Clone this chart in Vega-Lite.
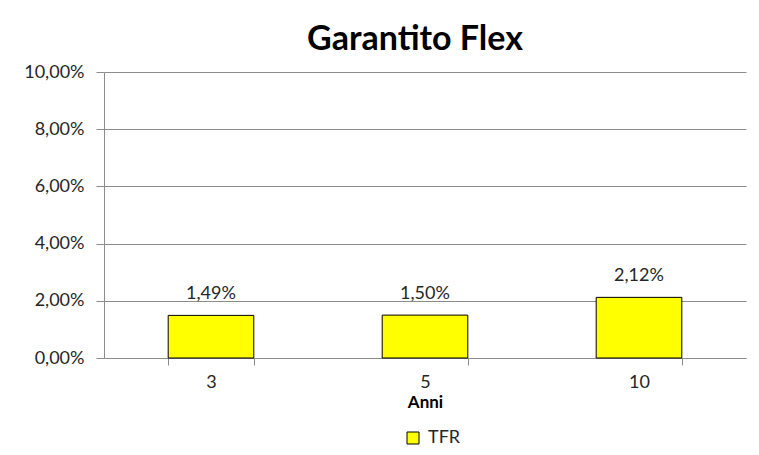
{
  "$schema": "https://vega.github.io/schema/vega-lite/v6.json",
  "width": 642,
  "height": 286,
  "autosize": {"type": "none"},
  "padding": {"left": 104, "top": 72, "right": 13, "bottom": 97},
  "background": "white",
  "config": {
    "locale": {"number": {"decimal": ",", "thousands": ".", "grouping": [3], "currency": ["€", ""]}},
    "view": {"stroke": null},
    "font": "Lato",
    "axis": {"labelFont": "Lato", "labelFontSize": 18, "labelColor": "#262626", "domainColor": "#8c8c8c", "tickColor": "#8c8c8c", "gridColor": "#8c8c8c"}
  },
  "title": {"text": "Garantito Flex", "fontSize": 34, "font": "Lato", "fontWeight": "bold", "color": "#000000", "anchor": "middle", "frame": "group", "offset": 6, "dx": -10},
  "data": {"values": [
    {"anni": "3", "valore": 0.0149, "serie": "TFR"},
    {"anni": "5", "valore": 0.0150, "serie": "TFR"},
    {"anni": "10", "valore": 0.0212, "serie": "TFR"}
  ]},
  "encoding": {
    "x": {"field": "anni", "type": "ordinal", "sort": ["3", "5", "10"],
      "scale": {"paddingInner": 0.6, "paddingOuter": 0.3},
      "axis": {"title": "Anni", "titleFont": "Lato", "titleFontSize": 17, "titleFontWeight": "bold", "titleColor": "#000000", "titlePadding": 3, "labelAngle": 0, "labelPadding": 8, "tickBand": "extent", "tickSize": 7, "grid": false}},
    "y": {"field": "valore", "type": "quantitative",
      "scale": {"domain": [0, 0.1]},
      "axis": {"title": null, "format": ".2%", "values": [0, 0.02, 0.04, 0.06, 0.08, 0.1], "tickSize": 8, "labelPadding": 12, "grid": true}}
  },
  "layer": [
    {"mark": {"type": "bar", "stroke": "#000000", "strokeWidth": 1},
     "encoding": {"color": {"field": "serie", "type": "nominal", "scale": {"range": ["#FFFF00"]},
       "legend": {"title": null, "orient": "none", "legendX": 300, "legendY": 357, "padding": 0, "symbolType": "square", "symbolStrokeColor": "#000000", "symbolStrokeWidth": 1, "symbolSize": 144, "symbolOffset": 0, "labelOffset": 6, "labelFont": "Lato", "labelFontSize": 18, "labelColor": "#262626"}}}},
    {"mark": {"type": "text", "dy": -16, "baseline": "alphabetic", "fontSize": 18, "font": "Lato", "color": "#262626"},
     "encoding": {"text": {"field": "valore", "type": "quantitative", "format": ".2%"}}}
  ]
}
